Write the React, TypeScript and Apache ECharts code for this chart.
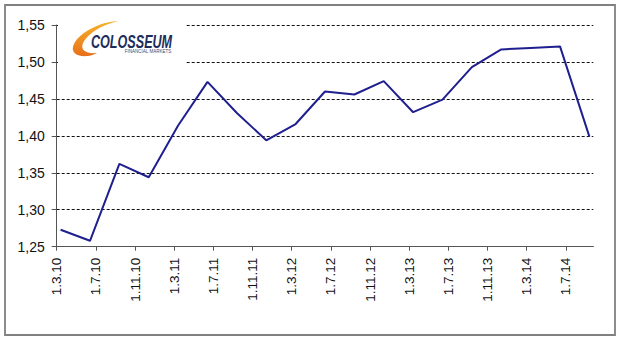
import React, { useEffect, useRef } from "react";
import * as echarts from "echarts";

// Quarterly observation dates (year-month-day) and values
const obsDates = [
  "2010-03-13", "2010-06-13", "2010-09-13", "2010-12-13",
  "2011-03-13", "2011-06-13", "2011-09-13", "2011-12-13",
  "2012-03-13", "2012-06-13", "2012-09-13", "2012-12-13",
  "2013-03-13", "2013-06-13", "2013-09-13", "2013-12-13",
  "2014-03-13", "2014-06-13", "2014-09-13",
];
const rates = [
  1.273, 1.258, 1.362, 1.344,
  1.414, 1.473, 1.431, 1.394,
  1.416, 1.460, 1.456, 1.474,
  1.432, 1.449, 1.493, 1.517,
  1.519, 1.521, 1.399,
];
const tickLabels = [
  "1.3.10", "1.7.10", "1.11.10", "1.3.11", "1.7.11", "1.11.11", "1.3.12",
  "1.7.12", "1.11.12", "1.3.13", "1.7.13", "1.11.13", "1.3.14", "1.7.14",
];
const yTicks = [1.25, 1.3, 1.35, 1.4, 1.45, 1.5, 1.55];

const START_YEAR = 2010;
const START_MONTH = 3;
const LABEL_STEP = 4;

function monthPos(d: string): number {
  const [y, m, day] = d.split("-").map(Number);
  return (y - START_YEAR) * 12 + (m - START_MONTH) + (day - 1) / 30;
}

const swooshD =
  "M118,21 C100,22 80,32 74,44 C70,52 76,57 88,56 C92,55.5 95,54 97,53 C86,54 80,50 83,43 C88,33 102,25 118,21 Z";
echarts.graphic.registerShape("swoosh", (echarts.graphic as any).extendPath(swooshD, {}));

export default function App() {
  const ref = useRef<HTMLDivElement>(null);
  useEffect(() => {
    if (!ref.current) return;
    const chart = echarts.init(ref.current, undefined, { renderer: "svg" });
    const font = 'Arial, "Liberation Sans", sans-serif';
    const tickVals = tickLabels.map((_, i) => i * LABEL_STEP);
    chart.setOption({
      animation: false,
      backgroundColor: "#ffffff",
      grid: { left: 56.7, right: 26.7, top: 25, bottom: 92.3, containLabel: false },
      xAxis: {
        type: "value",
        min: 0,
        max: 54.8,
        interval: LABEL_STEP,
        axisLine: { show: true, lineStyle: { color: "#555555", width: 1 } },
        axisTick: { show: true, length: 4, lineStyle: { color: "#555555" }, customValues: tickVals },
        axisLabel: {
          show: true,
          rotate: 90,
          margin: 11,
          fontFamily: font,
          fontSize: 13.5,
          color: "#111111",
          customValues: tickVals,
          formatter: (v: number) => {
            const i = Math.round(v / LABEL_STEP);
            return Math.abs(v - i * LABEL_STEP) < 1e-6 && tickLabels[i] ? tickLabels[i] : "";
          },
        },
        splitLine: { show: false },
      },
      yAxis: {
        type: "value",
        min: yTicks[0],
        max: yTicks[yTicks.length - 1],
        interval: 0.05,
        axisLine: { show: true, lineStyle: { color: "#555555", width: 1 } },
        axisTick: { show: true, length: 5, lineStyle: { color: "#555555" } },
        axisLabel: {
          margin: 12,
          fontFamily: font,
          fontSize: 14,
          color: "#111111",
          formatter: (v: number) => v.toFixed(2).replace(".", ","),
        },
        splitLine: { show: true, lineStyle: { color: "#111111", type: [3, 2], width: 1 } },
      },
      series: [
        {
          type: "line",
          data: obsDates.map((d, i) => [monthPos(d), rates[i]]),
          showSymbol: false,
          symbol: "none",
          lineStyle: { color: "#1f1f8f", width: 2 },
          z: 3,
        },
      ],
      graphic: [
        {
          type: "rect",
          z: 100,
          shape: { x: 5, y: 5, width: 610, height: 330 },
          style: { fill: "none", stroke: "#808080", lineWidth: 1.8 },
        },
        {
          type: "rect",
          z: 10,
          shape: { x: 58, y: 16, width: 128, height: 50 },
          style: { fill: "#ffffff" },
        },
        {
          type: "swoosh",
          z: 11,
          x: 0,
          y: 0,
          style: {
            fill: new echarts.graphic.LinearGradient(0, 0, 0, 1, [
              { offset: 0, color: "#f7b32b" },
              { offset: 1, color: "#e8701a" },
            ]),
          },
        },
        {
          type: "text",
          z: 12,
          x: 91,
          y: 33,
          scaleX: 0.7,
          style: {
            text: "COLOSSEUM",
            font: 'italic bold 18px Arial, "Liberation Sans", sans-serif',
            fill: "#1c2d5c",
            textVerticalAlign: "top",
          },
        },
        {
          type: "text",
          z: 12,
          x: 148,
          y: 49,
          style: {
            text: "FINANCIAL MARKETS",
            font: '4.5px Arial, "Liberation Sans", sans-serif',
            fill: "#3a4a70",
            textAlign: "center",
            textVerticalAlign: "top",
          },
        },
      ],
    });
    return () => chart.dispose();
  }, []);
  return (
    <div
      ref={ref}
      style={{ position: "absolute", left: 0, top: 0, width: 620, height: 339 }}
    />
  );
}
